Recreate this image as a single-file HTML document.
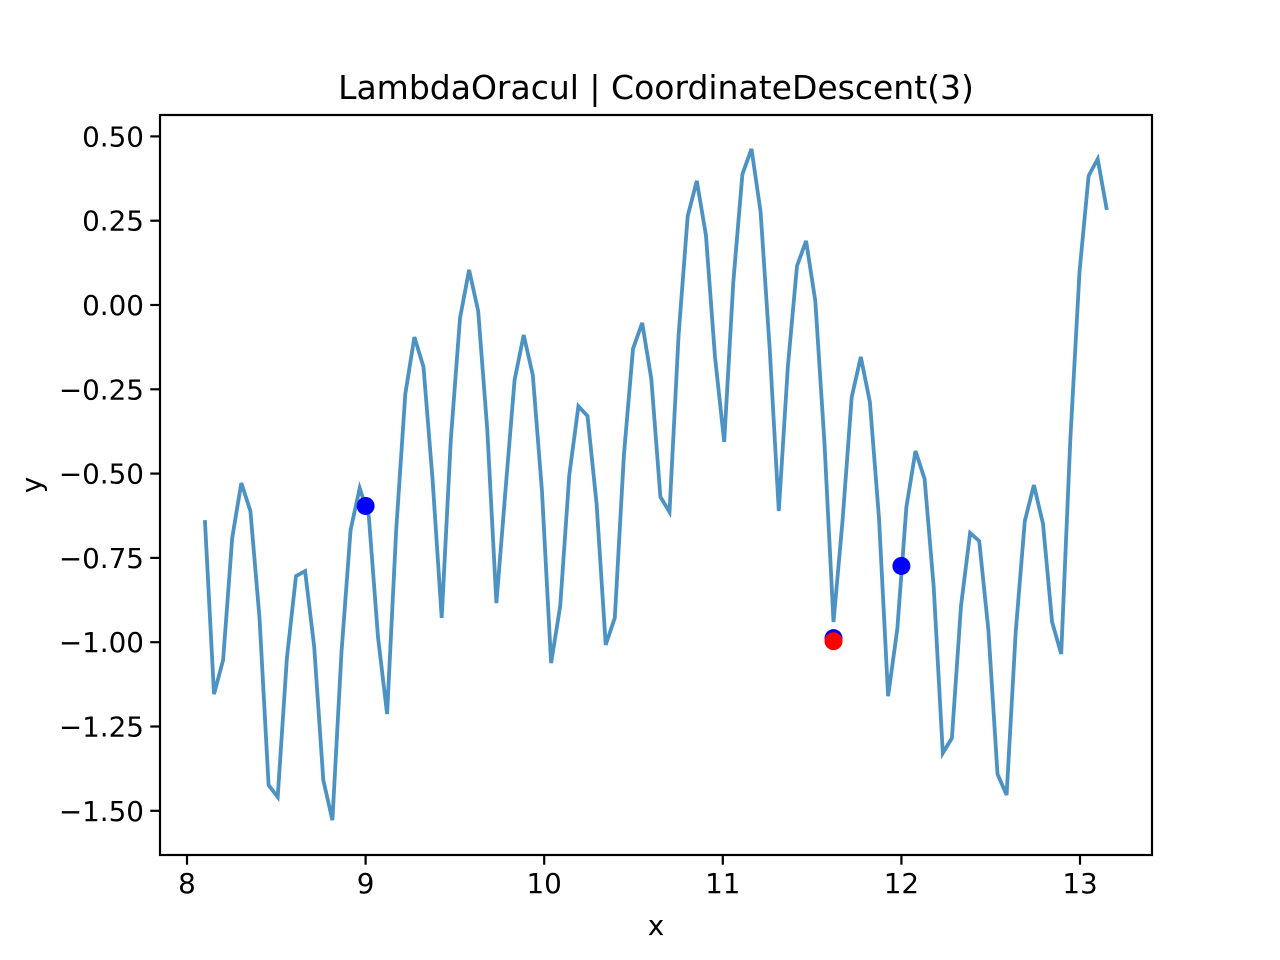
<!DOCTYPE html>
<html><head><meta charset="utf-8"><style>
html,body{margin:0;padding:0;background:#fff;width:1280px;height:960px;overflow:hidden}
text{font-family:"DejaVu Sans","Liberation Sans",sans-serif;fill:#000}
</style></head><body>
<svg id="chart" width="1280" height="960" xmlns="http://www.w3.org/2000/svg">
<rect width="1280" height="960" fill="#fff"/>
<text x="656" y="99" font-size="33" text-anchor="middle">LambdaOracul | CoordinateDescent(3)</text>
<g id="plot"></g>
</svg>
<script>
const yValues=[-0.638,-1.154,-1.053,-0.691,-0.528,-0.611,-0.928,-1.424,-1.459,-1.047,
-0.804,-0.789,-1.014,-1.409,-1.528,-1.029,-0.667,-0.543,-0.626,-0.985,
-1.213,-0.667,-0.264,-0.095,-0.184,-0.519,-0.928,-0.400,-0.039,0.104,
-0.018,-0.371,-0.884,-0.549,-0.222,-0.089,-0.208,-0.549,-1.062,-0.893,
-0.504,-0.300,-0.329,-0.590,-1.008,-0.928,-0.445,-0.130,-0.053,-0.219,
-0.569,-0.614,-0.089,0.264,0.368,0.208,-0.154,-0.406,0.068,0.388,
0.463,0.276,-0.130,-0.611,-0.181,0.116,0.190,0.012,-0.406,-0.940,
-0.638,-0.273,-0.154,-0.288,-0.632,-1.160,-0.961,-0.599,-0.433,-0.516,
-0.836,-1.329,-1.284,-0.893,-0.676,-0.700,-0.964,-1.391,-1.453,-0.970,
-0.641,-0.534,-0.649,-0.940,-1.035,-0.400,0.098,0.383,0.433,0.282];
const xStart=8.10, xEnd=13.15;
const blueX=[9.00,11.62,12.00];
const blueY=[-0.596,-0.988,-0.774];
const redX=[11.62];
const redY=[-0.997];
const xTicks=[8,9,10,11,12,13];
const xTickLabels=["8","9","10","11","12","13"];
const yTicks=[0.5,0.25,0,-0.25,-0.5,-0.75,-1,-1.25,-1.5];
const yTickLabels=["0.50","0.25","0.00","\u22120.25","\u22120.50","\u22120.75","\u22121.00","\u22121.25","\u22121.50"];

const L=160,R=1152,T=115,B=855;
const sx=v=>187+(v-8)*178.6;
const sy=v=>305-v*337.2;
const NS="http://www.w3.org/2000/svg";
const g=document.getElementById('plot');
function mk(t,a){const e=document.createElementNS(NS,t);for(const k in a)e.setAttribute(k,a[k]);g.appendChild(e);return e;}

const n=yValues.length;
let d="";
yValues.forEach((y,i)=>{const x=xStart+(xEnd-xStart)*i/(n-1);d+=(i?"L":"M")+sx(x).toFixed(1)+","+sy(y).toFixed(1);});
const line=mk('path',{d:d,fill:'none',stroke:'#1f77b4','stroke-opacity':0.8,'stroke-width':3.8,'stroke-linejoin':'miter'});



blueX.forEach((x,i)=>{const c=mk('circle',{cx:sx(x),cy:sy(blueY[i]),r:9,fill:'#0000ff'});

});
redX.forEach((x,i)=>{const c=mk('circle',{cx:sx(x),cy:sy(redY[i]),r:9,fill:'#ff0000'});

});

const frame=mk('rect',{x:L,y:T,width:R-L,height:B-T,fill:'none',stroke:'#000','stroke-width':2.2});



xTicks.forEach((v,i)=>{const x=sx(v);
const t=mk('line',{x1:x,x2:x,y1:B,y2:B+9.7,stroke:'#000','stroke-width':2.2});


const tx=mk('text',{x:x,y:B+38,'font-size':27.8,'text-anchor':'middle'});tx.textContent=xTickLabels[i];

});
yTicks.forEach((v,i)=>{const y=sy(v);
const t=mk('line',{x1:L-9.7,x2:L,y1:y,y2:y,stroke:'#000','stroke-width':2.2});


const tx=mk('text',{x:L-16,y:y+10,'font-size':27.8,'text-anchor':'end'});tx.textContent=yTickLabels[i];

});

const xl=mk('text',{x:656,y:935,'font-size':27.8,'text-anchor':'middle'});xl.textContent='x';


const yl=mk('text',{x:0,y:0,'font-size':27.8,'text-anchor':'middle',transform:'translate(41,485) rotate(-90)'});yl.textContent='y';


</script>
</body></html>
